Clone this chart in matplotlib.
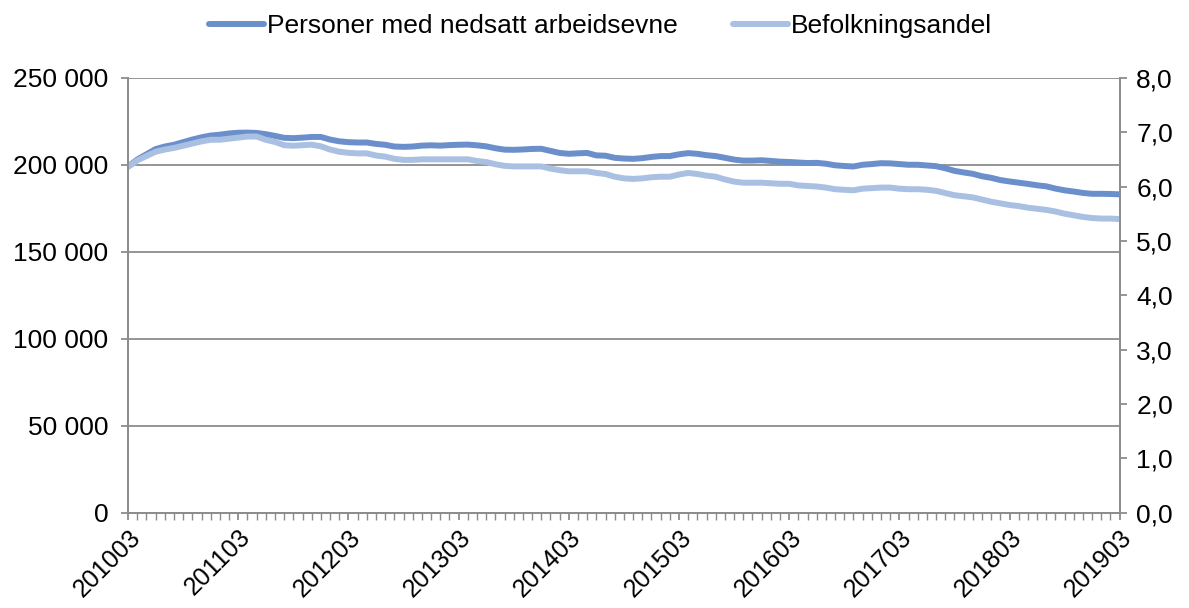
import matplotlib
matplotlib.use("Agg")
import matplotlib.pyplot as plt
from matplotlib.ticker import FixedLocator, FuncFormatter

plt.rcParams['font.family'] = ['Liberation Sans', 'DejaVu Sans']

# Monthly periods 201003 .. 201903
periods = [f"{2010 + (2 + k) // 12}{(2 + k) % 12 + 1:02d}" for k in range(109)]

# Persons with reduced work capacity (thousands)
personer_k = [
    199.0, 203.0, 206.0, 209.0, 210.5, 211.5, 213.0, 214.5, 215.8, 216.8,
    217.3, 218.0, 218.4, 218.5, 218.3, 217.6, 216.6, 215.5, 215.3, 215.6,
    216.0, 216.0, 214.5, 213.5, 213.0, 212.8, 212.8, 212.0, 211.5, 210.5,
    210.3, 210.5, 211.0, 211.2, 211.0, 211.3, 211.5, 211.6, 211.2, 210.6,
    209.5, 208.7, 208.6, 208.8, 209.1, 209.2, 208.0, 206.8, 206.3, 206.6,
    206.8, 205.4, 205.2, 204.0, 203.6, 203.4, 203.8, 204.5, 205.0, 205.0,
    206.0, 206.7, 206.3, 205.5, 205.0, 204.0, 203.0, 202.4, 202.4, 202.6,
    202.2, 201.8, 201.6, 201.3, 201.0, 201.1, 200.6, 199.7, 199.3, 199.0,
    200.0, 200.4, 200.9, 200.8, 200.4, 200.0, 200.0, 199.6, 199.2, 198.0,
    196.5, 195.6, 194.8, 193.4, 192.5, 191.2, 190.4, 189.7, 189.0, 188.2,
    187.6, 186.3, 185.3, 184.6, 183.8, 183.3, 183.3, 183.2, 183.0,
]
personer = [v * 1000 for v in personer_k]

# Share of population (percent)
andel = [
    6.36, 6.48, 6.56, 6.64, 6.68, 6.71, 6.75, 6.79, 6.83, 6.86,
    6.86, 6.88, 6.90, 6.92, 6.92, 6.86, 6.82, 6.76, 6.75, 6.76,
    6.77, 6.74, 6.68, 6.64, 6.62, 6.61, 6.61, 6.57, 6.55, 6.51,
    6.49, 6.49, 6.50, 6.50, 6.50, 6.50, 6.50, 6.50, 6.47, 6.45,
    6.41, 6.38, 6.37, 6.37, 6.37, 6.37, 6.33, 6.30, 6.28, 6.28,
    6.28, 6.25, 6.23, 6.18, 6.15, 6.14, 6.15, 6.17, 6.18, 6.18,
    6.22, 6.25, 6.23, 6.20, 6.18, 6.13, 6.09, 6.07, 6.07, 6.07,
    6.06, 6.05, 6.05, 6.02, 6.01, 6.00, 5.98, 5.95, 5.94, 5.93,
    5.96, 5.97, 5.98, 5.98, 5.96, 5.95, 5.95, 5.94, 5.92, 5.88,
    5.84, 5.82, 5.80, 5.76, 5.72, 5.69, 5.66, 5.64, 5.61, 5.59,
    5.57, 5.54, 5.50, 5.47, 5.44, 5.42, 5.41, 5.41, 5.40,
]

left_ticks = [0, 50000, 100000, 150000, 200000, 250000]
right_ticks = [0, 1, 2, 3, 4, 5, 6, 7, 8]
label_periods = periods[::12]

dark = '#6A8FCB'
light = '#A9C0E2'
grey = '#8C8C8C'
fs = 19

fig = plt.figure(figsize=(11.89, 6.08), dpi=100)
ax = fig.add_axes([0.1077, 0.157, 0.834, 0.715])
ax2 = ax.twinx()

x = list(range(len(periods)))
l1, = ax.plot(x, personer, color=dark, lw=4.3, solid_capstyle='round',
              label='Personer med nedsatt arbeidsevne')
l2, = ax2.plot(x, andel, color=light, lw=4.3, solid_capstyle='round',
               label='Befolkningsandel')

ax.set_xlim(0, len(periods) - 1)
ax.set_ylim(0, 250000)
ax2.set_ylim(0, 8)

ax.yaxis.set_major_locator(FixedLocator(left_ticks))
ax.yaxis.set_major_formatter(FuncFormatter(lambda v, p: f"{int(v):,}".replace(',', ' ')))
ax2.yaxis.set_major_locator(FixedLocator(right_ticks))
ax2.yaxis.set_major_formatter(FuncFormatter(lambda v, p: f"{v:.1f}".replace('.', ',')))

ax.set_xticks(x[::12])
ax.set_xticklabels(label_periods, rotation=45, ha='right', rotation_mode='anchor')
ax.set_xticks(x, minor=True)

ax.grid(axis='y', color=grey, lw=1.3)
ax.set_axisbelow(True)

for a in (ax, ax2):
    a.spines['top'].set_visible(False)
    for s in ('left', 'right', 'bottom'):
        a.spines[s].set_color(grey)
        a.spines[s].set_linewidth(1.3)
    a.tick_params(colors=grey, labelcolor='black', labelsize=fs, width=1.3, length=5)
ax.tick_params(axis='x', which='minor', length=5, width=1.0, colors=grey)
ax.tick_params(axis='x', which='major', length=5, pad=4, labelsize=18)
ax.tick_params(axis='y', pad=9)
ax2.tick_params(axis='y', pad=7)

fig.legend(handles=[l1, l2], loc='center', bbox_to_anchor=(0.505, 0.957),
           ncol=2, frameon=False, fontsize=fs, handlelength=2.1,
           handletextpad=0.1, columnspacing=2.1)

fig.savefig('out.png', dpi=100)
